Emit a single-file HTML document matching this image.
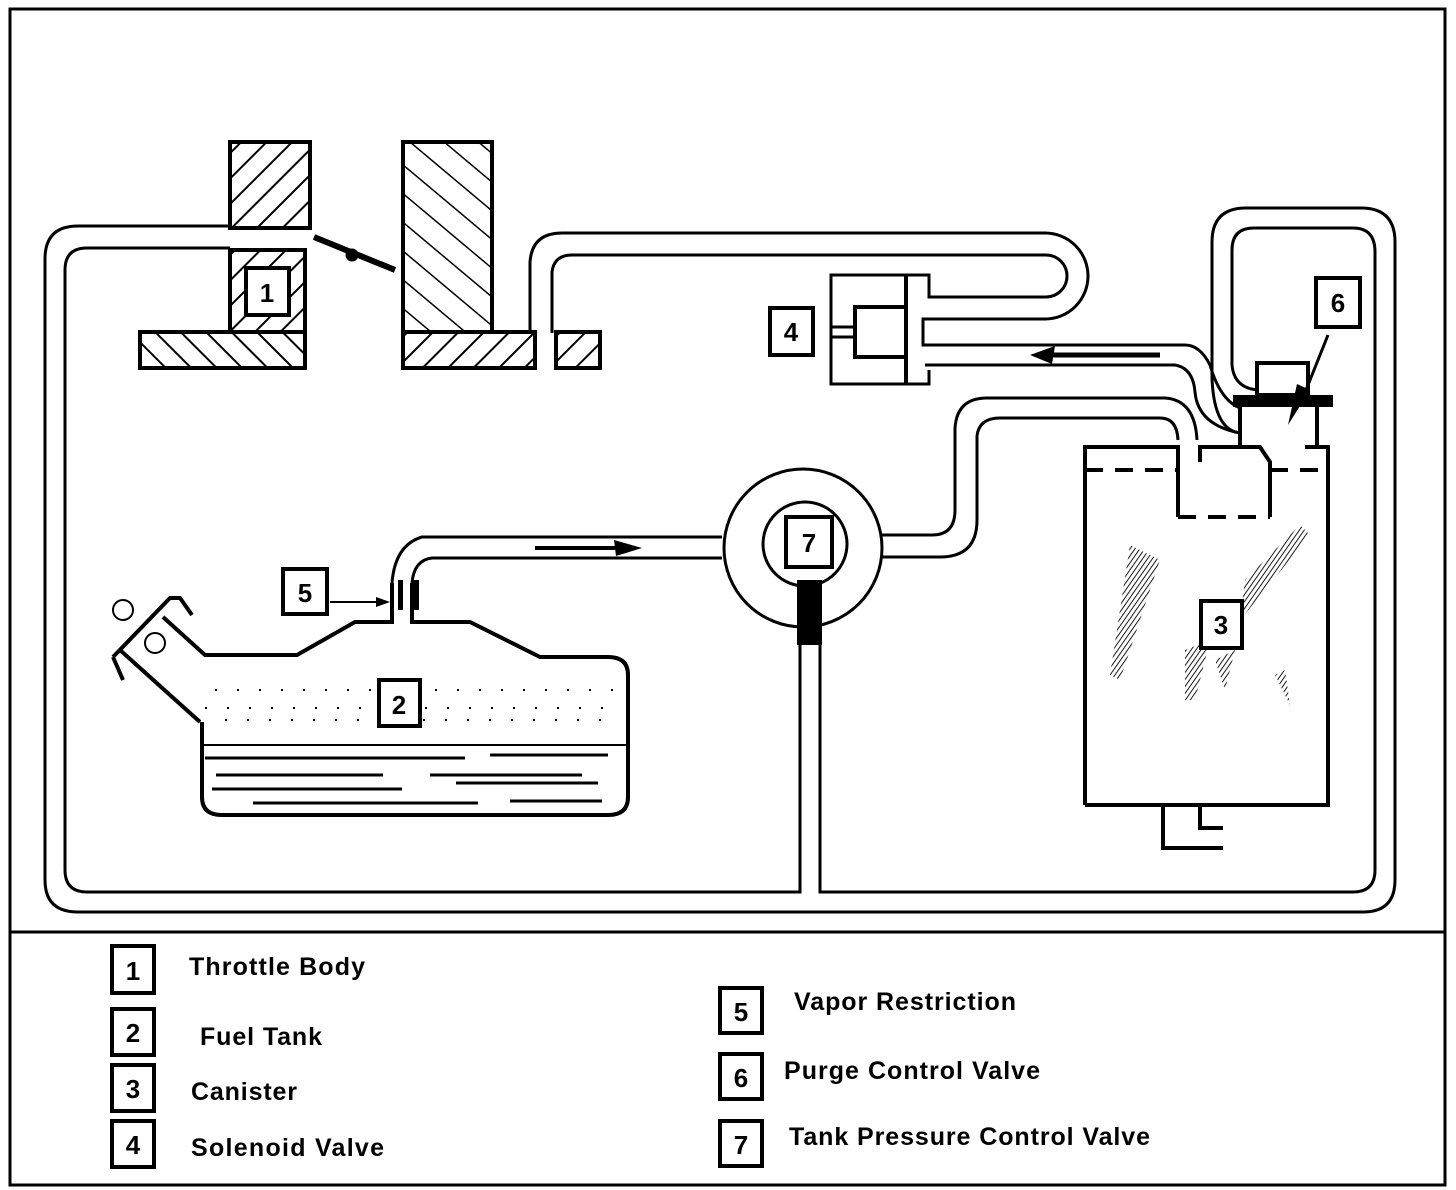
<!DOCTYPE html>
<html><head><meta charset="utf-8"><style>
html,body{margin:0;padding:0;background:#fff;}
svg{display:block;}
text{font-family:"Liberation Sans",sans-serif;font-weight:bold;fill:#000;}
</style></head><body>
<svg width="1456" height="1190" viewBox="0 0 1456 1190" xmlns="http://www.w3.org/2000/svg">
<defs>
<pattern id="hf" patternUnits="userSpaceOnUse" width="18" height="18" patternTransform="rotate(45)">
<rect width="18" height="18" fill="#fff"/><line x1="0" y1="0" x2="0" y2="18" stroke="#000" stroke-width="4"/></pattern>
<pattern id="hb" patternUnits="userSpaceOnUse" width="18" height="18" patternTransform="rotate(-45)">
<rect width="18" height="18" fill="#fff"/><line x1="0" y1="0" x2="0" y2="18" stroke="#000" stroke-width="4"/></pattern>
<pattern id="hb2" patternUnits="userSpaceOnUse" width="22" height="22" patternTransform="rotate(-50)">
<rect width="22" height="22" fill="#fff"/><line x1="0" y1="0" x2="0" y2="22" stroke="#000" stroke-width="3"/></pattern>
<pattern id="hs" patternUnits="userSpaceOnUse" width="4" height="4" patternTransform="rotate(35)">
<line x1="0" y1="0" x2="0" y2="4" stroke="#000" stroke-width="1.8"/></pattern>
</defs>
<g fill="none" stroke="#000">
<rect x="10" y="9" width="1435" height="1176" stroke-width="3"/>
<line x1="10" y1="932" x2="1445" y2="932" stroke-width="3"/>

<path d="M230,226 H78 Q45,226 45,259 V880 Q45,912 78,912 H1363 Q1395,912 1395,880 V242 Q1395,208 1361,208 H1246 Q1212,208 1212,242 V378 Q1214,430 1240,433" stroke-width="3"/>
<path d="M230,248 H87 Q65,248 65,270 V870 Q65,892 87,892 H800 V645" stroke-width="3"/>
<path d="M820,645 V892 H1353 Q1375,892 1375,870 V252 Q1375,228 1353,228 H1254 Q1232,228 1232,250 V365 Q1234,388 1258,390" stroke-width="3"/>

<rect x="230" y="142" width="80" height="86" fill="url(#hf)" stroke-width="4"/>
<rect x="230" y="250" width="75" height="82" fill="url(#hf)" stroke-width="4"/>
<rect x="140" y="332" width="165" height="36" fill="url(#hb)" stroke-width="4"/>
<rect x="403" y="142" width="89" height="190" fill="url(#hb2)" stroke-width="4"/>
<rect x="403" y="332" width="132" height="36" fill="url(#hf)" stroke-width="4"/>
<rect x="556" y="332" width="44" height="36" fill="url(#hf)" stroke-width="4"/>
<line x1="314" y1="237" x2="395" y2="270" stroke-width="6"/>
<circle cx="352" cy="255" r="6" fill="#000"/>
<rect x="246" y="268" width="43" height="47" fill="#fff" stroke-width="4"/>

<path d="M530,333 V262 Q532,233 562,233 H1045 A43,43 0 0 1 1045,319 H923 V345 H1185 Q1200,345 1210,365 Q1220,400 1240,408" stroke-width="3"/>
<path d="M552,333 V272 Q554,255 572,255 H1046 A21,21 0 0 1 1046,297 H929 V275 H831 V384 H929 V370 M925,365 H1175 Q1193,368 1195,392 Q1198,425 1240,433" stroke-width="3"/>
<line x1="906" y1="275" x2="906" y2="384" stroke-width="4"/>
<rect x="855" y="307" width="51" height="50" stroke-width="4"/>
<path d="M831,327 H855 M831,337 H855" stroke-width="3"/>
<line x1="1048" y1="355" x2="1160" y2="355" stroke-width="5"/>
<path d="M1030,355 L1055,346 L1052,364 Z" fill="#000" stroke="none"/>

<path d="M392,583 V622 H355 L297,655 H205 L163,617 M113,657 L170,598 H180 L192,615 M113,657 L123,680 M200,722 L120,650 M202,722 V797 Q202,815 222,815 H608 Q628,815 628,797 V675 Q628,657 608,657 H540 L470,622 H412 V583" stroke-width="4"/>
<circle cx="123" cy="610" r="10" stroke-width="2"/>
<circle cx="155" cy="643" r="10" stroke-width="2"/>
<line x1="204" y1="745" x2="626" y2="745" stroke-width="2"/>
<g stroke-width="3">
<line x1="205" y1="758" x2="465" y2="758"/><line x1="490" y1="755" x2="608" y2="755"/>
<line x1="216" y1="775" x2="383" y2="775"/><line x1="430" y1="775" x2="582" y2="775"/>
<line x1="212" y1="789" x2="402" y2="789"/><line x1="456" y1="783" x2="598" y2="783"/>
<line x1="253" y1="803" x2="478" y2="803"/><line x1="510" y1="801" x2="602" y2="801"/>
</g>
<g stroke-width="2" stroke-dasharray="2 20">
<line x1="215" y1="690" x2="620" y2="690"/><line x1="225" y1="720" x2="620" y2="720"/><line x1="205" y1="708" x2="620" y2="708"/>
</g>
<path d="M392,583 Q395,545 422,537 H722" stroke-width="3"/>
<path d="M412,583 Q414,560 432,558 H722" stroke-width="3"/>
<rect x="398" y="580" width="5" height="30" fill="#000" stroke="none"/>
<rect x="413" y="580" width="6" height="30" fill="#000" stroke="none"/>
<line x1="535" y1="548" x2="620" y2="548" stroke-width="4"/>
<path d="M642,548 L614,540 L616,556 Z" fill="#000" stroke="none"/>
<line x1="330" y1="602" x2="378" y2="602" stroke-width="2"/>
<path d="M390,602 L376,597 L376,607 Z" fill="#000" stroke="none"/>

<circle cx="803" cy="548" r="79" fill="#fff" stroke-width="3"/>
<circle cx="805" cy="544" r="42" stroke-width="3"/>
<rect x="797" y="580" width="25" height="65" fill="#000" stroke="none"/>
<path d="M882,535 H932 Q955,535 955,510 V428 Q957,398 987,398 H1165 Q1195,400 1197,440" stroke-width="3"/>
<path d="M882,557 H940 Q977,557 977,520 V436 Q979,418 1000,418 H1160 Q1177,418 1178,440" stroke-width="3"/>

<rect x="1257" y="363" width="51" height="32" fill="#fff" stroke-width="4"/>
<rect x="1233" y="395" width="100" height="12" fill="#000" stroke="none"/>
<path d="M1240,407 V445 M1317,407 V445" stroke-width="4"/>
<path d="M1328,335 L1306,390" stroke-width="3"/>
<path d="M1288,425 L1297,384 L1310,390 Z" fill="#000" stroke="none"/>

<path d="M1085,805 V447 H1178 V517 M1200,462 V447 H1260 L1270,462 V517 M1305,447 H1328 V805 H1085" stroke-width="4"/>
<path d="M1178,517 H1270" stroke-width="4" stroke-dasharray="18 12"/>
<path d="M1085,470 H1178 M1270,470 H1328" stroke-width="4" stroke-dasharray="18 12"/>
<path d="M1163,805 V848 H1223 M1200,805 V828 H1223" stroke-width="4"/>
<g stroke="none" fill="url(#hs)">
<path d="M1130,545 L1160,560 L1120,680 L1110,675 Z"/>
<path d="M1245,580 L1300,525 L1310,535 L1240,620 Z"/>
<path d="M1185,650 L1210,640 L1195,700 L1185,700 Z"/>
<path d="M1215,660 L1235,650 L1225,690 Z"/>
<path d="M1275,675 L1285,670 L1290,705 Z"/>
</g>
</g>

<g fill="#fff" stroke="#000" stroke-width="4">
<rect x="770" y="308" width="43" height="47"/>
<rect x="283" y="569" width="44" height="45"/>
<rect x="379" y="680" width="41" height="46"/>
<rect x="786" y="517" width="46" height="50"/>
<rect x="1316" y="278" width="44" height="49"/>
<rect x="1201" y="601" width="41" height="47"/>
</g>
<g font-size="26" text-anchor="middle">
<text x="267" y="302">1</text>
<text x="791" y="341">4</text>
<text x="305" y="602">5</text>
<text x="399" y="714">2</text>
<text x="809" y="552">7</text>
<text x="1338" y="312">6</text>
<text x="1221" y="634">3</text>
</g>

<g fill="#fff" stroke="#000" stroke-width="4">
<rect x="112" y="946" width="42" height="47"/>
<rect x="112" y="1009" width="42" height="46"/>
<rect x="112" y="1065" width="42" height="46"/>
<rect x="112" y="1121" width="42" height="46"/>
<rect x="720" y="988" width="42" height="45"/>
<rect x="720" y="1054" width="42" height="45"/>
<rect x="720" y="1121" width="42" height="45"/>
</g>
<g font-size="26" text-anchor="middle">
<text x="133" y="980">1</text>
<text x="133" y="1042">2</text>
<text x="133" y="1098">3</text>
<text x="133" y="1154">4</text>
<text x="741" y="1021">5</text>
<text x="741" y="1087">6</text>
<text x="741" y="1154">7</text>
</g>
<g font-size="25">
<text x="189" y="975" textLength="176" lengthAdjust="spacing">Throttle Body</text>
<text x="200" y="1045" textLength="122" lengthAdjust="spacing">Fuel Tank</text>
<text x="191" y="1100" textLength="106" lengthAdjust="spacing">Canister</text>
<text x="191" y="1156" textLength="193" lengthAdjust="spacing">Solenoid Valve</text>
<text x="794" y="1010" textLength="222" lengthAdjust="spacing">Vapor Restriction</text>
<text x="784" y="1079" textLength="256" lengthAdjust="spacing">Purge Control Valve</text>
<text x="789" y="1145" textLength="361" lengthAdjust="spacing">Tank Pressure Control Valve</text>
</g>
</svg>
</body></html>
